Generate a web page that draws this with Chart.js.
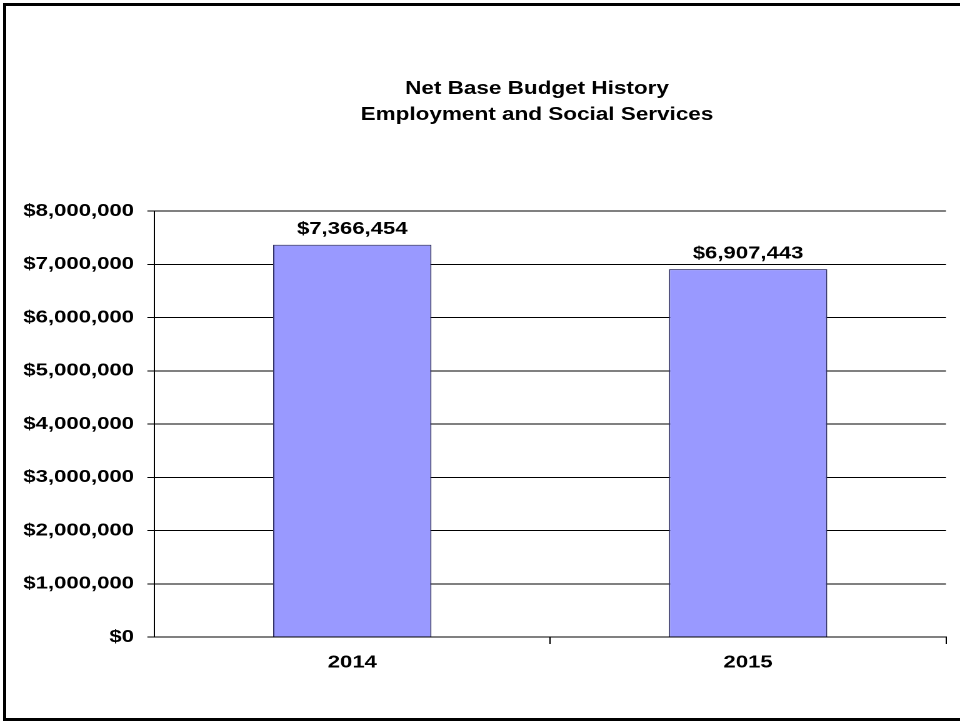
<!DOCTYPE html>
<html>
    <head>
        <title>Net Base Budget History</title>
        <meta charset="utf-8" />
        <script src="https://cdn.jsdelivr.net/npm/chart.js@4.4.0/dist/chart.umd.min.js"></script>
        <style>
            * {
                margin: 0;
                padding: 0;
                box-sizing: border-box;
            }
            html, body {
                width: 960px;
                height: 721px;
                overflow: hidden;
                background-color: #ffffff;
            }
            /* chart is laid out 768 wide and stretched out to the full page width */
            #wrap {
                position: absolute;
                left: 0;
                top: 0;
                width: 768px;
                height: 721px;
                transform: scaleX(1.25);
                transform-origin: 0 0;
            }
            #frame {
                position: absolute;
                left: 3px;
                top: 3px;
                width: 1000px;
                height: 718px;
                border: 3px solid #000;
                border-right: none;
                pointer-events: none;
            }
        </style>
    </head>
    <body>

        <div id="wrap">
            <canvas id="budgetChart"></canvas>
        </div>
        <div id="frame"></div>

        <script>
            const years = ['2014', '2015'];
            const netBudget = [7366454, 6907443];
            const titleLines = ['Net Base Budget History', 'Employment and Social Services'];
            const yMax = 8000000;
            const yStep = 1000000;

            const money = v => '$' + String(Math.round(v)).replace(/\B(?=(\d{3})+(?!\d))/g, ',');

            const fontFamily = "'Liberation Sans', Arial, sans-serif";
            const tickFont = { family: fontFamily, size: 17.7, weight: 'bold' };

            // title and the value above each bar
            const headerAndLabels = {
                id: 'headerAndLabels',
                afterDatasetsDraw(chart) {
                    const ctx = chart.ctx;
                    ctx.save();
                    ctx.fillStyle = '#000';
                    ctx.textAlign = 'center';
                    ctx.textBaseline = 'alphabetic';
                    ctx.font = 'bold 17.7px ' + fontFamily;
                    chart.getDatasetMeta(0).data.forEach((bar, i) => {
                        ctx.fillText(money(netBudget[i]), bar.x, bar.y - 10.5);
                    });
                    ctx.font = 'bold 18px ' + fontFamily;
                    ctx.fillText(titleLines[0], 429.6, 94);
                    ctx.fillText(titleLines[1], 429.6, 120);
                    ctx.restore();
                }
            };

            const data = {
                labels: years,
                datasets: [{
                    label: 'Net Base Budget',
                    data: netBudget,
                    backgroundColor: '#9999ff',
                    borderColor: '#333366',
                    borderWidth: 1,
                    barPercentage: 0.4,
                    categoryPercentage: 1
                }]
            };

            const chartConfig = {
                type: 'bar',
                data,
                options: {
                    responsive: true,
                    maintainAspectRatio: false,
                    devicePixelRatio: 2,
                    animation: false,
                    layout: {
                        padding: { top: 211, right: 11.2, bottom: 0, left: 0 }
                    },
                    scales: {
                        x: {
                            grid: {
                                offset: true,
                                drawOnChartArea: false,
                                tickLength: 7,
                                color: c => c.index === 0 ? 'rgba(0,0,0,0)' : '#000'
                            },
                            border: { color: '#000', width: 1 },
                            ticks: { color: '#000', font: tickFont, padding: 8 },
                            afterFit: s => { s.height = 84; }
                        },
                        y: {
                            min: 0,
                            max: yMax,
                            grid: { color: '#000', tickLength: 5.6 },
                            border: { color: '#000', width: 1 },
                            ticks: {
                                stepSize: yStep,
                                color: '#000',
                                font: tickFont,
                                padding: 10.7,
                                callback: v => money(v)
                            },
                            afterFit: s => { s.width = 123.5; }
                        }
                    },
                    plugins: {
                        legend: { display: false },
                        title: { display: false },
                        tooltip: { enabled: false }
                    }
                },
                plugins: [headerAndLabels]
            };

            var budgetChart = new Chart(
                document.getElementById('budgetChart'),
                chartConfig
            );
        </script>
    </body>
</html>
